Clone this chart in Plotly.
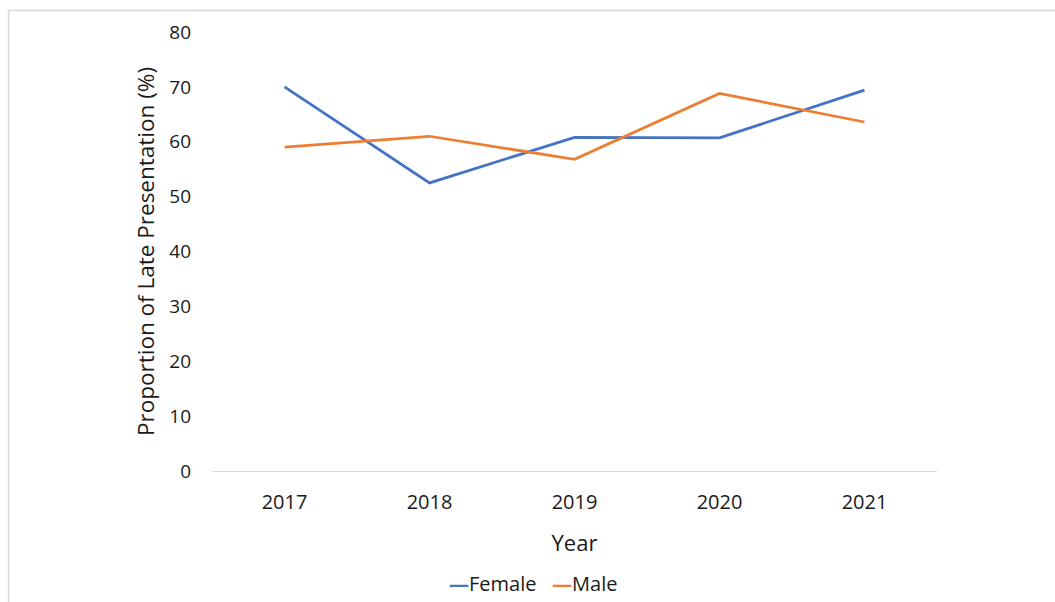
import plotly.graph_objects as go

years = ["2017", "2018", "2019", "2020", "2021"]
female = [70.0, 52.5, 60.8, 60.7, 69.4]
male = [59.0, 61.0, 56.8, 68.8, 63.6]
y_ticks = [0, 10, 20, 30, 40, 50, 60, 70, 80]
series_names = ["Female", "Male"]
series_colors = ["#4472C4", "#ED7D31"]

W, H = 1055, 602
L, R, T, B = 212, 118, 32, 131
pw = W - L - R
ph = H - T - B

fig = go.Figure()
for name, vals, col in zip(series_names, [female, male], series_colors):
    fig.add_trace(go.Scatter(x=years, y=vals, mode="lines", name=name,
                             line=dict(color=col, width=2.75)))

font_family = "Open Sans, Liberation Sans, sans-serif"
txt = "#1a1a1a"

fig.update_layout(
    width=W, height=H,
    margin=dict(l=L, r=R, t=T, b=B, autoexpand=False),
    paper_bgcolor="white", plot_bgcolor="white",
    font=dict(family=font_family, color=txt, size=19),
    showlegend=False,
    xaxis=dict(type="category", range=[-0.5, 4.5], showgrid=False,
               showline=True, linecolor="#D9D9D9", linewidth=1,
               ticks="", ticklabelstandoff=13,
               tickfont=dict(size=20, color=txt),
               title=dict(text="Year", font=dict(size=22, color=txt), standoff=21),
               zeroline=False, fixedrange=True),
    yaxis=dict(range=[0, 80], tickvals=y_ticks, showgrid=False,
               showline=False, zeroline=False, ticks="",
               ticklabelstandoff=20,
               tickfont=dict(size=19, color=txt),
               title=dict(text="Proportion of Late Presentation (%)",
                          font=dict(size=22.5, color=txt), standoff=8),
               fixedrange=True),
)

# legend drawn as text line (short Excel-style dashes)
legend_text = "&nbsp;&nbsp;&nbsp;".join(
    f"<span style='color:{c}'><b>—</b></span>{n}" for n, c in zip(series_names, series_colors)
)
fig.add_annotation(text=legend_text, xref="paper", yref="paper",
                   x=(533 - L) / pw, y=(H - B - 583) / ph,
                   xanchor="center", yanchor="middle", showarrow=False,
                   font=dict(size=20, color=txt))

# chart-area border (Excel style), left/top visible
x0 = (8.5 - L) / pw
y1 = (H - B - 10.5) / ph
fig.add_shape(type="rect", xref="paper", yref="paper",
              x0=x0, x1=(W + 5 - L) / pw, y0=(-(B + 5)) / ph, y1=y1,
              line=dict(color="#D9D9D9", width=1.5), layer="below")

fig.write_html("out.html")
